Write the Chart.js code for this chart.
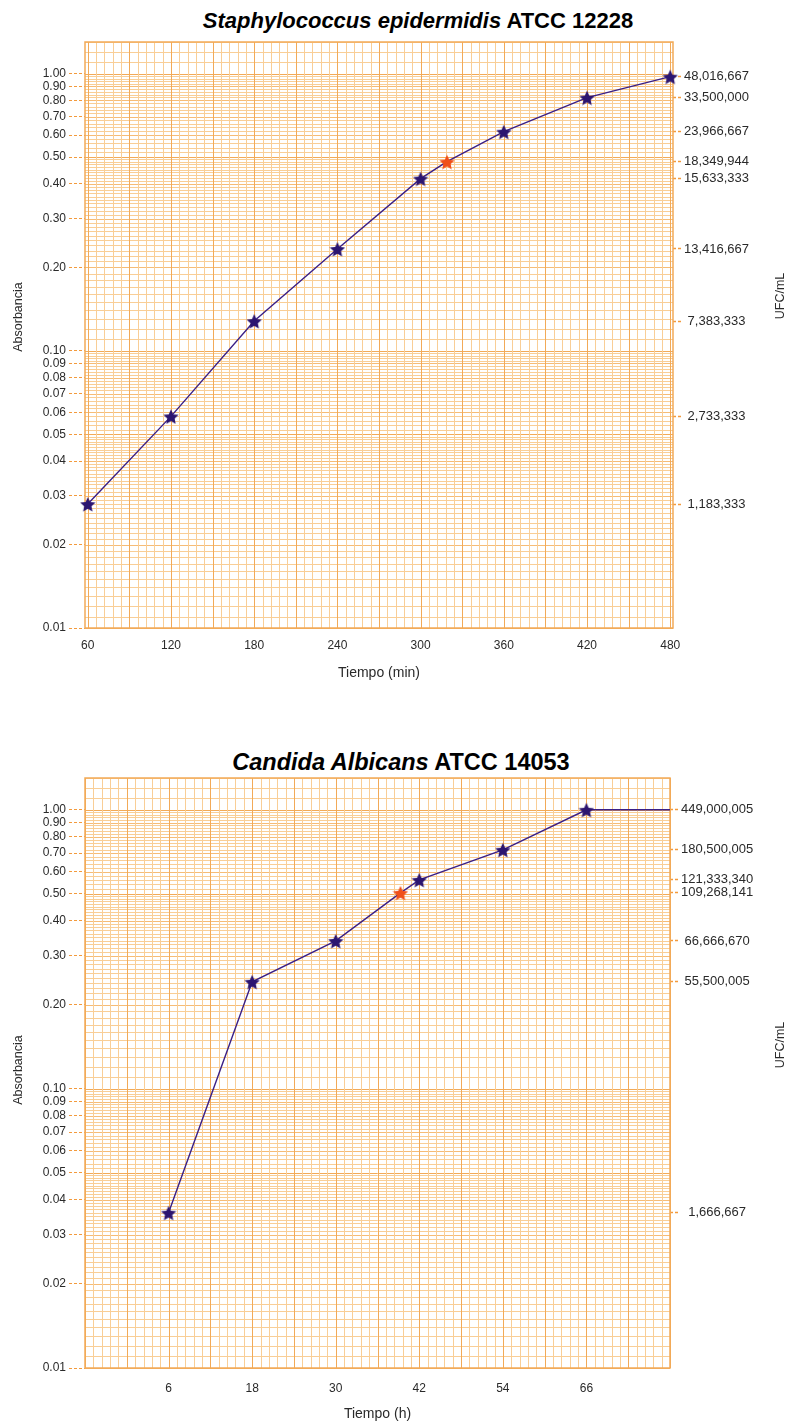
<!DOCTYPE html>
<html lang="es">
<head>
<meta charset="UTF-8" />
<title>Curvas de crecimiento</title>
<script src="https://cdn.jsdelivr.net/npm/chart.js"></script>
<style>
  body { margin: 0; background: #fff; font-family: "Liberation Sans", Arial, sans-serif; }
  .block { position: relative; width: 791px; height: 713px; }
  .block canvas { position: absolute; left: 0; top: 0; }
  .title {
    position: absolute; transform: translateX(-50%); white-space: nowrap;
    font-weight: bold; line-height: 1; color: #000;
  }
</style>
</head>
<body>
  <div class="block">
    <div class="title" style="left:418px; top:10px; font-size:22px;"><i>Staphylococcus epidermidis</i> ATCC 12228</div>
    <canvas id="staph" width="791" height="713"></canvas>
  </div>
  <div class="block">
    <div class="title" style="left:401px; top:38px; font-size:23.5px;"><i>Candida Albicans</i> ATCC 14053</div>
    <canvas id="candida" width="791" height="713"></canvas>
  </div>

<script>
// --- data ---
const absTicks = [1.00, 0.90, 0.80, 0.70, 0.60, 0.50, 0.40, 0.30, 0.20,
                  0.10, 0.09, 0.08, 0.07, 0.06, 0.05, 0.04, 0.03, 0.02, 0.01];

const timeMin   = [60, 120, 180, 240, 300, 319, 360, 420, 480];
const absStaph  = [0.028, 0.058, 0.128, 0.233, 0.418, 0.481, 0.617, 0.819, 0.975];
const ufcStaph  = ['1,183,333', '2,733,333', '7,383,333', '13,416,667', '15,633,333',
                   '18,349,944', '23,966,667', '33,500,000', '48,016,667'];
const markStaph = ['p', 'p', 'p', 'p', 'p', 'o', 'p', 'p', 'p'];
const timeMinTicks = [60, 120, 180, 240, 300, 360, 420, 480];

const timeH     = [6, 18, 30, 39.3, 42, 54, 66, 78];
const absCand   = [0.036, 0.242, 0.339, 0.504, 0.561, 0.719, 1.00, 1.00];
const ufcCand   = ['1,666,667', '55,500,005', '66,666,670', '109,268,141', '121,333,340',
                   '180,500,005', '449,000,005', ''];
const markCand  = ['p', 'p', 'p', 'o', 'p', 'p', 'p', ''];
const timeHTicks = [6, 18, 30, 42, 54, 66];

// --- styling ---
Chart.defaults.font.family = '"Liberation Sans", Arial, sans-serif';
const TEXT = '#2a2a2a';
const LINE = '#3a1f86';
const TICK = '#f39a3c';

function makeStar(color, size) {
  const c = document.createElement('canvas');
  c.width = c.height = size;
  const g = c.getContext('2d');
  const r = size / 2, ri = r * 0.48;
  g.beginPath();
  for (let i = 0; i < 10; i++) {
    const a = -Math.PI / 2 + i * Math.PI / 5;
    const rr = i % 2 ? ri : r;
    g.lineTo(r + rr * Math.cos(a), r + 1 + rr * Math.sin(a));
  }
  g.closePath();
  g.fillStyle = color;
  g.fill();
  return c;
}
const starP = makeStar('#2c1570', 16);
const starO = makeStar('#f0501a', 16);

// log graph paper: mantissa steps in tenths (10..50 by 1, 50..100 by 2)
const mantissa = [];
for (let k = 10; k < 50; k++) mantissa.push(k);
for (let k = 50; k < 100; k += 2) mantissa.push(k);

function strokeLine(ctx, x1, y1, x2, y2, w, col) {
  ctx.beginPath();
  ctx.lineWidth = w;
  ctx.strokeStyle = col;
  ctx.moveTo(x1, y1);
  ctx.lineTo(x2, y2);
  ctx.stroke();
}

const paperPlugin = {
  id: 'paper',
  beforeDatasetsDraw(chart, args, opts) {
    const { ctx, chartArea: a, scales: { x, y } } = chart;
    ctx.save();
    const minor = 'rgb(249,206,150)';
    const mid = 'rgb(246,188,118)';
    const heavy = 'rgb(242,170,88)';
    // horizontal lines
    [0.01, 0.1, 1].forEach(d => {
      mantissa.forEach(k => {
        const v = d * k / 10;
        if (v > y.max) return;
        const py = Math.round(y.getPixelForValue(v)) + 0.5;
        const col = (k === 10 || k === 50) ? heavy : (k % 10 === 0 ? mid : minor);
        strokeLine(ctx, a.left, py, a.right, py, 1, col);
      });
    });
    // vertical lines
    const k0 = Math.ceil((x.min - opts.xAnchor) / opts.xStep);
    for (let k = k0; ; k++) {
      const v = opts.xAnchor + k * opts.xStep;
      if (v > x.max + 1e-9) break;
      const px = Math.round(x.getPixelForValue(v)) + 0.5;
      const isHeavy = ((k % opts.xHeavy) + opts.xHeavy) % opts.xHeavy === 0;
      strokeLine(ctx, px, a.top, px, a.bottom, 1, isHeavy ? heavy : minor);
    }
    // border
    ctx.lineWidth = 1.5;
    ctx.strokeStyle = heavy;
    ctx.strokeRect(a.left, a.top, a.right - a.left, a.bottom - a.top);
    ctx.restore();
  },
  afterDraw(chart, args, opts) {
    const ctx = chart.ctx;
    ctx.save();
    ctx.fillStyle = TEXT;
    ctx.font = '12.5px "Liberation Sans", Arial, sans-serif';
    ctx.textAlign = 'center';
    ctx.textBaseline = 'middle';
    opts.vTitles.forEach(t => {
      ctx.save();
      ctx.translate(t.x, t.y);
      ctx.rotate(-Math.PI / 2);
      ctx.fillText(t.text, 0, 0);
      ctx.restore();
    });
    ctx.restore();
  }
};

function buildChart(id, o) {
  const labeled = o.x.map((x, i) => ({ y: o.y[i], label: o.ufc[i] })).filter(p => p.label);
  return new Chart(document.getElementById(id), {
    type: 'line',
    data: {
      datasets: [{
        data: o.x.map((x, i) => ({ x: x, y: o.y[i] })),
        borderColor: LINE,
        borderWidth: 1.4,
        tension: 0,
        clip: false,
        pointStyle: o.mark.map(m => m === 'o' ? starO : starP),
        pointRadius: o.mark.map(m => m ? 6 : 0),
        pointHoverRadius: o.mark.map(m => m ? 6 : 0)
      }]
    },
    options: {
      responsive: false,
      animation: false,
      events: [],
      layout: { padding: { top: o.top, left: 0, right: 0, bottom: 0 } },
      plugins: {
        legend: { display: false },
        tooltip: { enabled: false },
        paper: { xAnchor: o.xAnchor, xStep: o.xStep, xHeavy: 5, vTitles: o.vTitles }
      },
      scales: {
        x: {
          type: 'linear',
          min: o.xMin,
          max: o.xMax,
          afterBuildTicks: s => { s.ticks = o.xTicks.map(v => ({ value: v })); },
          afterFit: s => { s.height = o.xAxisH; },
          grid: { display: false, drawTicks: false },
          border: { display: false },
          ticks: { padding: o.xPad, color: TEXT, font: { size: 12 }, maxRotation: 0, autoSkip: false },
          title: {
            display: true, text: o.xTitle, color: TEXT, font: { size: 14 },
            padding: { top: 0, bottom: o.xTitlePad }
          }
        },
        y: {
          type: 'logarithmic',
          position: 'left',
          min: 0.01,
          max: 1.3,
          afterBuildTicks: s => { s.ticks = absTicks.map(v => ({ value: v })); },
          afterFit: s => { s.width = o.left; },
          ticks: { callback: v => Number(v).toFixed(2), autoSkip: false, padding: 3, color: TEXT, font: { size: 12 } },
          grid: {
            display: true, drawOnChartArea: false, drawTicks: true, tickLength: 16,
            tickColor: TICK, tickWidth: 1, tickBorderDash: [3, 2]
          },
          border: { display: false }
        },
        y2: {
          type: 'logarithmic',
          position: 'right',
          min: 0.01,
          max: 1.3,
          afterBuildTicks: s => { s.ticks = labeled.map(p => ({ value: p.y })); },
          afterFit: s => { s.width = o.right; },
          ticks: {
            callback: (v, i) => labeled[i].label, autoSkip: false, padding: 3,
            crossAlign: 'center', color: TEXT, font: { size: 13 }
          },
          grid: {
            display: true, drawOnChartArea: false, drawTicks: true, tickLength: 8,
            tickColor: TICK, tickWidth: 1.5, tickBorderDash: [3, 2]
          },
          border: { display: false }
        }
      }
    },
    plugins: [paperPlugin]
  });
}

buildChart('staph', {
  x: timeMin, y: absStaph, ufc: ufcStaph, mark: markStaph, xTicks: timeMinTicks,
  xMin: 58, xMax: 482, xAnchor: 60, xStep: 6,
  top: 42, left: 85, right: 118, xAxisH: 85, xPad: 10, xTitlePad: 31,
  xTitle: 'Tiempo (min)',
  vTitles: [{ text: 'Absorbancia', x: 19, y: 317 }, { text: 'UFC/mL', x: 781, y: 296 }]
});

buildChart('candida', {
  x: timeH, y: absCand, ufc: ufcCand, mark: markCand, xTicks: timeHTicks,
  xMin: -6, xMax: 78, xAnchor: 6, xStep: 1.2,
  top: 65, left: 85, right: 121, xAxisH: 58, xPad: 13, xTitlePad: 3,
  xTitle: 'Tiempo (h)',
  vTitles: [{ text: 'Absorbancia', x: 19, y: 357 }, { text: 'UFC/mL', x: 781, y: 332 }]
});
</script>
</body>
</html>
